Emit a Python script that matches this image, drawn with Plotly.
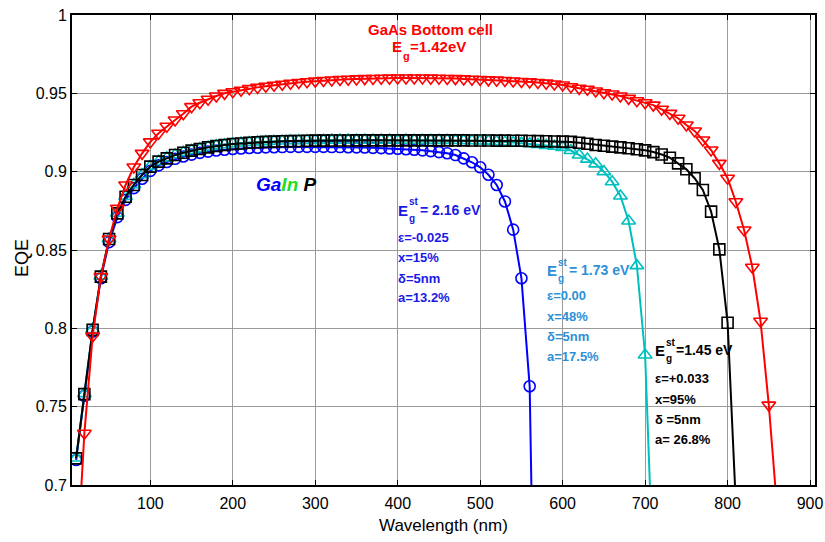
import plotly.graph_objects as go

# ---------------- data ----------------
wl_black = [10, 20, 30, 40, 50, 60, 70, 80, 90, 100,
            110, 120, 130, 140, 150, 160, 170, 180, 190, 200,
            210, 220, 230, 240, 250, 260, 270, 280, 290, 300,
            310, 320, 330, 340, 350, 360, 370, 380, 390, 400,
            410, 420, 430, 440, 450, 460, 470, 480, 490, 500,
            510, 520, 530, 540, 550, 560, 570, 580, 590, 600,
            610, 620, 630, 640, 650, 660, 670, 680, 690, 700,
            710, 720, 730, 740, 750, 760, 770, 780, 790, 800,
            810]
eqe_black = [0.717, 0.758, 0.799, 0.833, 0.857, 0.8734, 0.884, 0.8915, 0.8979, 0.9032,
             0.9064, 0.9085, 0.9106, 0.9121, 0.9134, 0.9145, 0.9155, 0.9164, 0.917, 0.9177,
             0.918, 0.9185, 0.9188, 0.919, 0.9192, 0.9194, 0.9195, 0.9196, 0.9197, 0.9198,
             0.9198, 0.9199, 0.9199, 0.9199, 0.92, 0.92, 0.92, 0.92, 0.92, 0.92,
             0.92, 0.92, 0.92, 0.92, 0.92, 0.92, 0.92, 0.92, 0.9199, 0.9199,
             0.9199, 0.9198, 0.9198, 0.9197, 0.9197, 0.9196, 0.9195, 0.9194, 0.9193, 0.9192,
             0.919, 0.9185, 0.9178, 0.917, 0.9165, 0.916, 0.9155, 0.9149, 0.9143, 0.9136,
             0.9125, 0.911, 0.9089, 0.9053, 0.9015, 0.8958, 0.8883, 0.8745, 0.8504, 0.8036,
             0.688]

wl_cyan = [10, 20, 30, 40, 50, 60, 70, 80, 90, 100,
           110, 120, 130, 140, 150, 160, 170, 180, 190, 200,
           210, 220, 230, 240, 250, 260, 270, 280, 290, 300,
           310, 320, 330, 340, 350, 360, 370, 380, 390, 400,
           410, 420, 430, 440, 450, 460, 470, 480, 490, 500,
           510, 520, 530, 540, 550, 560, 570, 580, 590, 600,
           610, 620, 630, 640, 650, 660, 670, 680, 690, 700,
           710]
eqe_cyan = [0.7172, 0.7583, 0.7993, 0.8333, 0.8572, 0.8735, 0.8842, 0.8917, 0.8981, 0.9034,
            0.9066, 0.9088, 0.9108, 0.9123, 0.9136, 0.9147, 0.9157, 0.9166, 0.9172, 0.9178,
            0.9182, 0.9186, 0.919, 0.9192, 0.9194, 0.9196, 0.9197, 0.9198, 0.9199, 0.92,
            0.92, 0.9201, 0.9201, 0.9201, 0.9201, 0.9201, 0.9201, 0.9201, 0.9201, 0.9201,
            0.9201, 0.92, 0.92, 0.92, 0.92, 0.92, 0.9199, 0.9198, 0.9197, 0.9196,
            0.9195, 0.9192, 0.9189, 0.9186, 0.9182, 0.9178, 0.9173, 0.9168, 0.9162, 0.9155,
            0.9135, 0.9106, 0.908, 0.905, 0.9, 0.8936, 0.8845, 0.8685, 0.84, 0.783,
            0.64]

wl_blue = [10, 20, 30, 40, 50, 60, 70, 80, 90, 100,
           110, 120, 130, 140, 150, 160, 170, 180, 190, 200,
           210, 220, 230, 240, 250, 260, 270, 280, 290, 300,
           310, 320, 330, 340, 350, 360, 370, 380, 390, 400,
           410, 420, 430, 440, 450, 460, 470, 480, 490, 500,
           510, 520, 530, 540, 550, 560, 570]
eqe_blue = [0.716, 0.757, 0.798, 0.832, 0.855, 0.871, 0.882, 0.8895, 0.8955, 0.9005,
            0.904, 0.9062, 0.9082, 0.9097, 0.9109, 0.912, 0.9128, 0.9135, 0.914, 0.9145,
            0.9148, 0.9151, 0.9153, 0.9155, 0.9156, 0.9157, 0.9158, 0.9158, 0.9158, 0.9158,
            0.9158, 0.9157, 0.9157, 0.9156, 0.9155, 0.9154, 0.9152, 0.915, 0.9148, 0.9146,
            0.9143, 0.914, 0.9136, 0.9131, 0.9125, 0.9118, 0.9106, 0.9085, 0.906, 0.9028,
            0.898, 0.8915, 0.881, 0.863, 0.832, 0.763, 0.46]

wl_red = [10, 20, 30, 40, 50, 60, 70, 80, 90, 100,
          110, 120, 130, 140, 150, 160, 170, 180, 190, 200,
          210, 220, 230, 240, 250, 260, 270, 280, 290, 300,
          310, 320, 330, 340, 350, 360, 370, 380, 390, 400,
          410, 420, 430, 440, 450, 460, 470, 480, 490, 500,
          510, 520, 530, 540, 550, 560, 570, 580, 590, 600,
          610, 620, 630, 640, 650, 660, 670, 680, 690, 700,
          710, 720, 730, 740, 750, 760, 770, 780, 790, 800,
          810, 820, 830, 840, 850, 860]
eqe_red = [0.64, 0.733, 0.795, 0.833, 0.857, 0.8766, 0.8915, 0.903, 0.9117, 0.919,
           0.9245, 0.929, 0.933, 0.937, 0.9415, 0.944, 0.9462, 0.9483, 0.95, 0.951,
           0.952, 0.953, 0.9538, 0.9545, 0.9552, 0.9558, 0.9564, 0.9569, 0.9574, 0.9578,
           0.9582, 0.9585, 0.9588, 0.959, 0.9592, 0.9594, 0.9595, 0.9596, 0.9597, 0.9598,
           0.9598, 0.9598, 0.9598, 0.9597, 0.9596, 0.9595, 0.9594, 0.9592, 0.959, 0.9588,
           0.9586, 0.9584, 0.9582, 0.9579, 0.9576, 0.9573, 0.9569, 0.9565, 0.956, 0.9553,
           0.9542, 0.9532, 0.9526, 0.9515, 0.9504, 0.9496, 0.9483, 0.9468, 0.9453, 0.944,
           0.9425, 0.9398, 0.9372, 0.9341, 0.9298, 0.926, 0.9202, 0.9138, 0.9053, 0.8958,
           0.8808, 0.8628, 0.839, 0.8045, 0.751, 0.685]

x_ticks = [100, 200, 300, 400, 500, 600, 700, 800, 900]
y_ticks = [0.7, 0.75, 0.8, 0.85, 0.9, 0.95, 1.0]
y_tick_text = ["0.7", "0.75", "0.8", "0.85", "0.9", "0.95", "1"]

# ---------------- figure ----------------
W, H = 825, 542
L, R, T, B = 72, 10, 15, 57
PW, PH = W - L - R, H - T - B


def px(x):
    return (x - L) / PW


def py(y):
    return (H - B - y) / PH


FONT = "Liberation Sans, Arial, sans-serif"

fig = go.Figure()


def add(xs, ys, color, symbol, size):
    fig.add_trace(go.Scatter(
        x=xs, y=ys, mode="lines+markers",
        line=dict(color=color, width=2),
        marker=dict(symbol=symbol, size=size, color=color,
                    line=dict(color=color, width=1.6)),
        showlegend=False, cliponaxis=True))


add(wl_blue, eqe_blue, "#0000FF", "circle-open", 11)
add(wl_cyan, eqe_cyan, "#00BFBF", "triangle-up-open", 12)
add(wl_black, eqe_black, "#000000", "square-open", 11)
add(wl_red, eqe_red, "#FF0000", "triangle-down-open", 12)

ann = []


def text(x, y, s, color, size=14, anchor="left"):
    ann.append(dict(x=px(x), y=py(y), xref="paper", yref="paper",
                    text="<b>" + s + "</b>",
                    showarrow=False, xanchor=anchor, yanchor="middle",
                    font=dict(family=FONT, size=size, color=color),
                    borderpad=0))


# GaAs label
text(430, 30, "GaAs Bottom cell", "#FF0000", 15, anchor="center")
text(391, 47, "E", "#FF0000", 15)
text(401.5, 56, "g", "#FF0000", 11)
text(409, 47, "=1.42eV", "#FF0000", 15)

# GaInP label
ann.append(dict(x=px(255), y=py(184), xref="paper", yref="paper",
                text="<b><i><span style='color:#0000FF'>Ga</span>"
                     "<span style='color:#22DD22'>In</span> "
                     "<span style='color:#000000'>P</span></i></b>",
                showarrow=False, xanchor="left", yanchor="middle",
                font=dict(family=FONT, size=19), borderpad=0))


def block(x0, yE, rest_dx, lines, color, ys):
    text(x0, yE, "E", color, 15)
    text(x0 + 10.5, yE - 8, "st", color, 10)
    text(x0 + 10.5, yE + 8.5, "g", color, 10)
    text(x0 + rest_dx, yE, lines[0], color, 14)
    for s, yy in zip(lines[1:], ys):
        text(x0, yy, s, color, 13)


block(397, 210, 21.5, ["= 2.16 eV", "ε=-0.025", "x=15%", "δ=5nm", "a=13.2%"],
      "#1A1AE6", [237.5, 257.5, 278, 298])
block(546, 270, 21.5, ["= 1.73 eV", "ε=0.00", "x=48%", "δ=5nm", "a=17.5%"],
      "#2E8FD8", [295, 316.5, 336.5, 356.5])
block(654, 350, 20.5, ["=1.45 eV", "ε=+0.033", "x=95%", "δ =5nm", "a= 26.8%"],
      "#000000", [378, 399, 419, 439])

# axis titles
ann.append(dict(x=px(443), y=py(525), xref="paper", yref="paper",
                text="Wavelength (nm)", showarrow=False, xanchor="center",
                yanchor="middle", font=dict(family=FONT, size=17, color="#000"),
                borderpad=0))
ann.append(dict(x=px(22), y=py(258), xref="paper", yref="paper",
                text="EQE", showarrow=False, textangle=-90, xanchor="center",
                yanchor="middle", font=dict(family=FONT, size=18, color="#000"),
                borderpad=0))

fig.update_layout(
    width=W, height=H,
    margin=dict(l=L, r=R, t=T, b=B, autoexpand=False),
    paper_bgcolor="white", plot_bgcolor="white",
    font=dict(family=FONT, size=16, color="#000"),
    annotations=ann,
    xaxis=dict(range=[5, 906], tickvals=x_ticks, ticks="inside", ticklen=5,
               tickcolor="#000", showline=True, linecolor="#000", linewidth=2,
               mirror="ticks", showgrid=True, gridcolor="#9A9A9A", gridwidth=1,
               zeroline=False, automargin=False, ticklabelstandoff=3,
               tickfont=dict(family=FONT, size=16)),
    yaxis=dict(range=[0.7, 1.0], tickvals=y_ticks, ticktext=y_tick_text,
               ticks="inside", ticklen=5, tickcolor="#000", showline=True,
               linecolor="#000", linewidth=2, mirror="ticks", showgrid=True,
               gridcolor="#9A9A9A", gridwidth=1, zeroline=False, automargin=False,
               tickfont=dict(family=FONT, size=16)),
)

fig.write_html("out.html")
